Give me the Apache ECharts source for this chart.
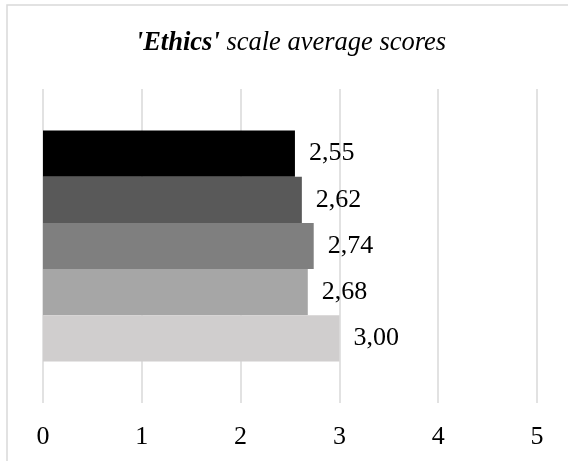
<!DOCTYPE html>
<html>
<head>
<meta charset="utf-8">
<style>
  html, body { margin: 0; padding: 0; background: #fff; }
  #chart { width: 568px; height: 461px; }
</style>
<script src="https://cdn.jsdelivr.net/npm/echarts@6/dist/echarts.min.js"></script>
</head>
<body>
<div id="chart"></div>
<script>
// Average scores on the 'Ethics' scale, one bar per group (top to bottom)
const groupNames = ['Group 1', 'Group 2', 'Group 3', 'Group 4', 'Group 5'];
const groupScores = [2.55, 2.62, 2.74, 2.68, 3.00];
const xTicks = [0, 1, 2, 3, 4, 5];
const category = ['Ethics'];

const barColors = ['#000000', '#595959', '#7f7f7f', '#a6a6a6', '#d0cece'];
const serif = "'Liberation Serif', 'Times New Roman', serif";

const chart = echarts.init(document.getElementById('chart'), null, { renderer: 'canvas' });

const series = groupNames.map((name, i) => ({
  name: name,
  type: 'bar',
  data: [groupScores[i]],
  barGap: '0%',
  barCategoryGap: '26.4%',
  itemStyle: { color: barColors[i] },
  label: {
    show: true,
    position: 'right',
    distance: 14,
    fontFamily: serif,
    fontSize: 26,
    color: '#000',
    formatter: p => p.value.toFixed(2).replace('.', ',')
  },
  silent: true
}));

chart.setOption({
  animation: false,
  backgroundColor: '#fff',
  title: {
    text: "{b|'Ethics'} scale average scores",
    left: 286,
    textAlign: 'center',
    top: 25,
    textStyle: {
      fontFamily: serif,
      fontStyle: 'italic',
      fontSize: 26.5,
      fontWeight: 'normal',
      color: '#000',
      rich: {
        b: { fontFamily: serif, fontStyle: 'italic', fontWeight: 'bold', fontSize: 26.5, color: '#000' }
      }
    }
  },
  graphic: [{
    type: 'rect',
    shape: { x: 7, y: 5, width: 700, height: 600 },
    style: { fill: null, stroke: '#d9d9d9', lineWidth: 1.5 },
    silent: true
  }],
  grid: { left: 43, right: 31, top: 89, bottom: 58, containLabel: false },
  xAxis: {
    type: 'value',
    min: xTicks[0],
    max: xTicks[xTicks.length - 1],
    interval: 1,
    axisLine: { show: false },
    axisTick: { show: false },
    splitLine: { show: true, lineStyle: { color: '#d9d9d9', width: 1.5 } },
    axisLabel: {
      fontFamily: serif,
      fontSize: 26,
      color: '#000',
      margin: 21,
      formatter: v => String(v)
    }
  },
  yAxis: {
    type: 'category',
    data: category,
    inverse: true,
    show: false
  },
  series: series
});
</script>
</body>
</html>
